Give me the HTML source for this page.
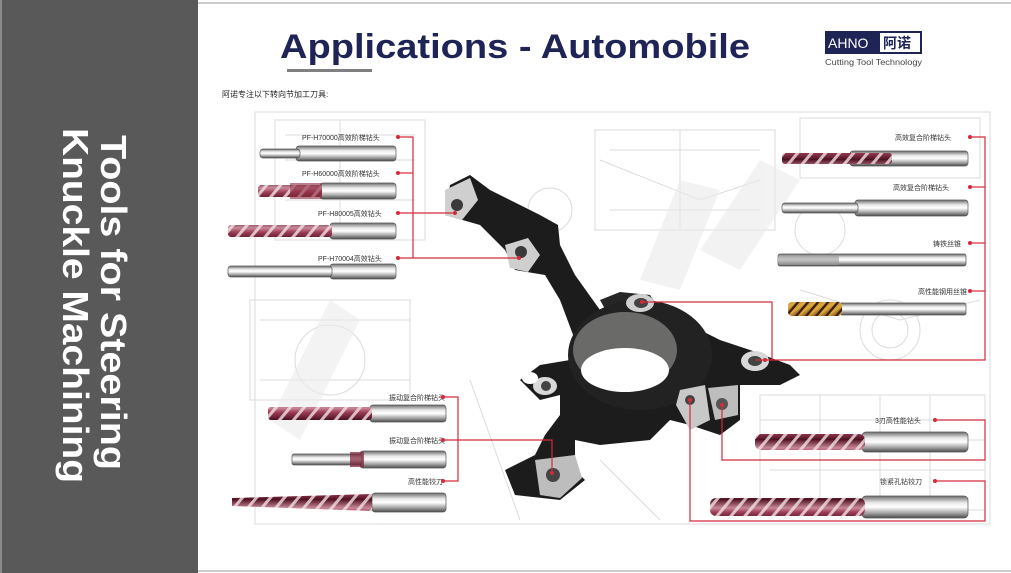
<!DOCTYPE html>
<html><head><meta charset="utf-8">
<style>
html,body{margin:0;padding:0;background:#fff;}
svg{display:block;}
text{font-family:"Liberation Sans","Noto Sans CJK SC",sans-serif;}
</style></head>
<body>
<svg width="1011" height="573" viewBox="0 0 1011 573" xmlns="http://www.w3.org/2000/svg">
<defs>
<linearGradient id="sh" x1="0" y1="0" x2="0" y2="1">
<stop offset="0" stop-color="#6a6a6a"/><stop offset="0.3" stop-color="#e8e8e8"/><stop offset="0.5" stop-color="#ffffff"/><stop offset="0.8" stop-color="#9a9a9a"/><stop offset="1" stop-color="#4a4a4a"/>
</linearGradient>
<linearGradient id="mr" x1="0" y1="0" x2="0" y2="1">
<stop offset="0" stop-color="#5a1a2a"/><stop offset="0.4" stop-color="#c98a98"/><stop offset="0.6" stop-color="#a04058"/><stop offset="1" stop-color="#4a1020"/>
</linearGradient>
<linearGradient id="gd" x1="0" y1="0" x2="1" y2="1">
<stop offset="0" stop-color="#b07020"/><stop offset="0.5" stop-color="#e0b040"/><stop offset="1" stop-color="#7a3a10"/>
</linearGradient>
<pattern id="fl" width="14" height="20" patternUnits="userSpaceOnUse" patternTransform="skewX(-40)">
<rect width="14" height="20" fill="url(#mr)"/><rect x="0" width="4" height="20" fill="#f0e0e4" opacity="0.8"/>
</pattern>
<pattern id="gf" width="10" height="20" patternUnits="userSpaceOnUse" patternTransform="skewX(-40)">
<rect width="10" height="20" fill="url(#gd)"/><rect width="3" height="20" fill="#3a2010"/>
</pattern>
</defs>

<rect width="1011" height="573" fill="#fff"/>
<line x1="198" y1="3" x2="1011" y2="3" stroke="#ccc" stroke-width="2"/>
<line x1="198" y1="571" x2="1011" y2="571" stroke="#ccc" stroke-width="2"/>

<!-- left panel -->
<rect x="0" y="0" width="198" height="573" fill="#595959"/>
<rect x="0" y="0" width="2" height="573" fill="#8a8a8a"/>
<text transform="translate(101,135) rotate(90)" font-size="36" font-weight="bold" fill="#fff" textLength="335" lengthAdjust="spacingAndGlyphs">Tools for Steering</text>
<text transform="translate(63,128) rotate(90)" font-size="36" font-weight="bold" fill="#fff" textLength="355" lengthAdjust="spacingAndGlyphs">Knuckle Machining</text>

<!-- header -->
<text x="280" y="58" font-size="34" font-weight="bold" fill="#1f2456" textLength="470" lengthAdjust="spacingAndGlyphs">Applications - Automobile</text>
<rect x="287" y="69" width="85" height="3" fill="#808080"/>
<rect x="825" y="31" width="97" height="23" fill="#1f2456"/>
<rect x="880" y="33" width="40" height="19" fill="#fff"/>
<text x="828" y="48" font-size="14" fill="#fff">AHNO</text>
<text x="883" y="48" font-size="14" font-weight="bold" fill="#1f2456">阿诺</text>
<text x="825" y="65" font-size="8" fill="#444" textLength="97" lengthAdjust="spacingAndGlyphs">Cutting Tool Technology</text>
<text x="222" y="97" font-size="8" fill="#222">阿诺专注以下转向节加工刀具:</text>

<!-- faint drawing background -->
<g stroke="#d8d8d8" stroke-width="1" fill="none" opacity="0.9">
<rect x="255" y="112" width="735" height="412"/>
<rect x="275" y="120" width="150" height="120"/>
<rect x="595" y="130" width="180" height="100"/>
<rect x="800" y="118" width="180" height="60"/>
<rect x="250" y="300" width="160" height="100"/>
<rect x="760" y="395" width="225" height="115"/>
<line x1="760" y1="420" x2="985" y2="420"/><line x1="760" y1="440" x2="985" y2="440"/>
<line x1="820" y1="395" x2="820" y2="510"/><line x1="880" y1="395" x2="880" y2="510"/>
<circle cx="890" cy="330" r="30"/><circle cx="890" cy="330" r="18"/>
<circle cx="330" cy="360" r="35"/>
<path d="M800 290 L900 320 L980 300"/>
<path d="M600 160 L700 200 L760 180"/>
<line x1="285" y1="135" x2="415" y2="135"/><line x1="285" y1="160" x2="415" y2="160"/><line x1="285" y1="200" x2="415" y2="200"/>
<line x1="340" y1="120" x2="340" y2="240"/>
<line x1="610" y1="150" x2="760" y2="150"/><line x1="610" y1="210" x2="760" y2="210"/>
<line x1="680" y1="130" x2="680" y2="230"/>
<line x1="260" y1="320" x2="410" y2="320"/><line x1="260" y1="380" x2="410" y2="380"/>
<line x1="470" y1="380" x2="520" y2="520"/><line x1="600" y1="460" x2="660" y2="520"/>
<line x1="770" y1="470" x2="985" y2="470"/><line x1="930" y1="395" x2="930" y2="510"/>
<circle cx="550" cy="210" r="22"/><circle cx="820" cy="230" r="25"/>
</g>
<g fill="#ebebeb" opacity="0.6">
<path d="M270 420 L330 300 L360 320 L300 440 Z"/>
<path d="M640 280 L680 180 L720 190 L680 290 Z"/>
<path d="M700 250 L760 160 L800 180 L740 270 Z"/>
</g>

<!-- LEFT TOP TOOLS -->
<g>
<rect x="296" y="146" width="100" height="15" rx="3" fill="url(#sh)" stroke="#555" stroke-width="0.7"/>
<rect x="260" y="149" width="40" height="9" rx="3" fill="url(#sh)" stroke="#555" stroke-width="0.7"/>
<rect x="320" y="183" width="76" height="16" rx="3" fill="url(#sh)" stroke="#555" stroke-width="0.7"/>
<rect x="258" y="185" width="64" height="12" rx="3" fill="url(#fl)"/>
<rect x="290" y="183" width="32" height="16" fill="#8a2a40" opacity="0.6"/>
<rect x="330" y="223" width="66" height="16" rx="3" fill="url(#sh)" stroke="#555" stroke-width="0.7"/>
<rect x="228" y="225" width="104" height="12" rx="3" fill="url(#fl)"/>
<rect x="330" y="264" width="66" height="15" rx="3" fill="url(#sh)" stroke="#555" stroke-width="0.7"/>
<rect x="228" y="266" width="104" height="11" rx="3" fill="url(#sh)" stroke="#555" stroke-width="0.7"/>
</g>
<g font-size="7" fill="#333">
<text x="302" y="140">PF-H70000高效阶梯钻头</text>
<text x="302" y="176">PF-H60000高效阶梯钻头</text>
<text x="318" y="216">PF-H80005高效钻头</text>
<text x="318" y="261">PF-H70004高效钻头</text>
</g>

<!-- RIGHT TOP TOOLS -->
<g>
<rect x="850" y="151" width="118" height="15" rx="3" fill="url(#sh)" stroke="#555" stroke-width="0.7"/>
<rect x="782" y="153" width="110" height="11" rx="3" fill="url(#fl)"/>
<rect x="855" y="200" width="113" height="16" rx="3" fill="url(#sh)" stroke="#555" stroke-width="0.7"/>
<rect x="782" y="203" width="76" height="10" rx="3" fill="url(#sh)" stroke="#555" stroke-width="0.7"/>
<rect x="778" y="254" width="188" height="12" rx="2" fill="url(#sh)" stroke="#555" stroke-width="0.7"/>
<rect x="779" y="255" width="60" height="10" fill="#999" opacity="0.6"/>
<rect x="840" y="303" width="126" height="12" rx="2" fill="url(#sh)" stroke="#555" stroke-width="0.7"/>
<rect x="788" y="302" width="54" height="14" rx="4" fill="url(#gf)"/>
</g>
<g font-size="7" fill="#333">
<text x="895" y="140">高效复合阶梯钻头</text>
<text x="893" y="190">高效复合阶梯钻头</text>
<text x="933" y="246">铸铁丝锥</text>
<text x="918" y="294">高性能钢用丝锥</text>
</g>

<!-- BOTTOM LEFT TOOLS -->
<g>
<rect x="370" y="405" width="76" height="17" rx="3" fill="url(#sh)" stroke="#555" stroke-width="0.7"/>
<rect x="268" y="407" width="104" height="13" rx="3" fill="url(#fl)"/>
<rect x="360" y="451" width="86" height="17" rx="3" fill="url(#sh)" stroke="#555" stroke-width="0.7"/>
<rect x="292" y="454" width="70" height="11" rx="2" fill="url(#sh)" stroke="#555" stroke-width="0.7"/>
<rect x="350" y="452" width="14" height="15" fill="#7a2035" opacity="0.7"/>
<rect x="372" y="493" width="74" height="19" rx="3" fill="url(#sh)" stroke="#555" stroke-width="0.7"/>
<path d="M232 498 L372 494 L372 511 L232 506 Z" fill="url(#fl)"/>
</g>
<g font-size="7" fill="#333">
<text x="389" y="400">振动复合阶梯钻头</text>
<text x="389" y="443">振动复合阶梯钻头</text>
<text x="408" y="484">高性能铰刀</text>
</g>

<!-- BOTTOM RIGHT TOOLS -->
<g>
<rect x="862" y="432" width="106" height="20" rx="4" fill="url(#sh)" stroke="#555" stroke-width="0.7"/>
<rect x="755" y="434" width="110" height="16" rx="6" fill="url(#fl)"/>
<rect x="862" y="496" width="106" height="22" rx="4" fill="url(#sh)" stroke="#555" stroke-width="0.7"/>
<rect x="710" y="498" width="155" height="18" rx="6" fill="url(#fl)"/>
</g>
<g font-size="7" fill="#333">
<text x="875" y="423">3刃高性能钻头</text>
<text x="880" y="484">锁紧孔钻铰刀</text>
</g>

<!-- KNUCKLE -->
<g>
<path d="M450 185 L470 175 L490 190 L540 215 L558 225 L560 245 L575 275 L600 310 L625 315 L680 320 L720 340 L750 350 L790 365 L800 375 L780 385 L740 385 L740 420 L720 435 L690 425 L670 420 L650 440 L600 445 L575 440 L575 470 L585 480 L560 500 L515 495 L505 470 L535 455 L545 435 L560 415 L560 395 L540 400 L520 380 L540 365 L570 360 L575 340 L560 300 L545 275 L515 270 L505 250 L480 225 L445 215 Z" fill="#1c1c1c"/>
<path d="M600 300 L620 292 L650 295 L660 310 L640 320 L610 318 Z" fill="#262626"/>
<ellipse cx="640" cy="355" rx="72" ry="55" fill="#222"/>
<ellipse cx="625" cy="350" rx="52" ry="38" fill="#6a6a68"/>
<ellipse cx="625" cy="370" rx="44" ry="22" fill="#fff"/>
<path d="M445 190 L470 178 L478 200 L462 220 L445 215 Z" fill="#cfcfcf"/>
<circle cx="457" cy="205" r="6" fill="#3a3a3a"/>
<path d="M505 245 L528 238 L540 255 L528 272 L510 268 Z" fill="#cfcfcf"/>
<circle cx="521" cy="252" r="6" fill="#3a3a3a"/>
<ellipse cx="640" cy="303" rx="14" ry="9" fill="#d0d0d0"/>
<ellipse cx="641" cy="303" rx="7" ry="5" fill="#444"/>
<ellipse cx="755" cy="361" rx="14" ry="10" fill="#d8d8d8"/>
<ellipse cx="755" cy="361" rx="7" ry="5" fill="#444"/>
<path d="M680 390 L705 385 L710 420 L690 430 L676 405 Z" fill="#c8c8c8"/>
<circle cx="690" cy="400" r="5" fill="#444"/>
<path d="M708 388 L738 385 L738 415 L715 420 Z" fill="#bdbdbd"/>
<circle cx="722" cy="404" r="6" fill="#555"/>
<ellipse cx="545" cy="386" rx="12" ry="9" fill="#d8d8d8"/>
<circle cx="546" cy="386" r="5" fill="#444"/>
<ellipse cx="530" cy="378" rx="8" ry="6" fill="#fff"/>
<path d="M535 460 L575 455 L582 478 L560 498 L540 495 Z" fill="#bdbdbd"/>
<circle cx="553" cy="475" r="7" fill="#444"/>
</g>

<!-- RED CONNECTORS -->
<g stroke="#d42a3a" stroke-width="1.2" fill="none">
<polyline points="398,137 413,137 413,258 398,258"/>
<line x1="398" y1="173" x2="413" y2="173"/>
<line x1="398" y1="213" x2="455" y2="213"/>
<line x1="413" y1="258" x2="519" y2="258"/>
<polyline points="970,137 985,137 985,360 755,360"/>
<line x1="970" y1="187" x2="985" y2="187"/>
<line x1="970" y1="243" x2="985" y2="243"/>
<line x1="970" y1="291" x2="985" y2="291"/>
<polyline points="642,302 772,302 772,360"/>
<polyline points="443,397 458,397 458,481 443,481"/>
<polyline points="443,440 552,440 552,473"/>
<polyline points="935,420 985,420 985,460 722,460 722,405"/>
<polyline points="935,481 985,481 985,521 690,521 690,400"/>
</g>
<g fill="#d42a3a">
<circle cx="398" cy="137" r="2"/><circle cx="398" cy="173" r="2"/><circle cx="398" cy="213" r="2"/><circle cx="398" cy="258" r="2"/>
<circle cx="455" cy="213" r="2"/><circle cx="519" cy="258" r="2"/>
<circle cx="970" cy="137" r="2"/><circle cx="970" cy="187" r="2"/><circle cx="970" cy="243" r="2"/><circle cx="970" cy="291" r="2"/>
<circle cx="642" cy="302" r="2"/><circle cx="765" cy="360" r="2"/>
<circle cx="443" cy="397" r="2"/><circle cx="443" cy="440" r="2"/><circle cx="443" cy="481" r="2"/>
<circle cx="552" cy="473" r="2"/><circle cx="935" cy="420" r="2"/><circle cx="935" cy="481" r="2"/>
<circle cx="722" cy="405" r="2"/><circle cx="690" cy="400" r="2"/>
</g>
</svg>
</body></html>
